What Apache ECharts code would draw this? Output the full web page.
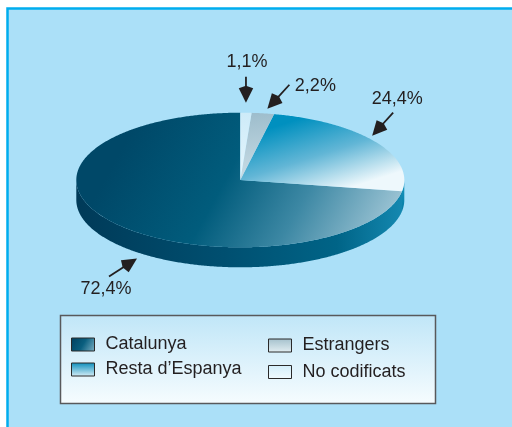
<!DOCTYPE html>
<html><head><meta charset="utf-8">
<script src="https://cdn.jsdelivr.net/npm/echarts@6/dist/echarts.min.js"></script>
<style>html,body{margin:0;padding:0;background:#fff}#c{width:512px;height:427px}</style>
</head><body><div id="c"></div>
<script>
// ---- data ----
const categories = ['Catalunya', 'Resta d\u2019Espanya', 'Estrangers', 'No codificats'];
const shares = [72.4, 24.4, 2.2, 1.1];
const clockwiseOrder = [3, 2, 1, 0]; // slices from 12 o'clock, clockwise

// ---- layout / style ----
const CX = 240.3, CY = 180, RX = 164, RY = 67.3, DEPTH = 20;
const FONT = '"Liberation Sans", Arial, Helvetica, sans-serif';
const INK = '#231f20';
const total = shares.reduce((a, b) => a + b, 0);

function grad(x, y, x2, y2, stops) {
  return new echarts.graphic.LinearGradient(x, y, x2, y2,
    stops.map(s => ({ offset: s[0], color: s[1] })));
}
const topFill = [
  () => grad(0.2, 0.0, 0.95, 1, [[0, '#004868'], [0.38, '#015c7c'], [0.66, '#3d88a4'], [1, '#a6cad9']]),
  () => grad(0.45, 0, 0.6, 1, [[0, '#0090bf'], [0.5, '#62b6d6'], [1, '#eef8fc']]),
  () => grad(0, 0, 0.3, 1, [[0, '#9cbccb'], [1, '#c9dde6']]),
  () => grad(0, 0, 0, 1, [[0, '#cdebf8'], [1, '#e6f6fd']])
];
const sideFill = [
  () => grad(0, 0, 1, 0, [[0, '#003a58'], [0.45, '#004f70'], [0.8, '#006487'], [1, '#1488b0']]),
  () => grad(0, 0, 0, 1, [[0, '#1a9ac2'], [1, '#087ca3']]),
  () => grad(0, 0, 0, 1, [[0, '#8aaab8'], [1, '#6e8e9c']]),
  () => grad(0, 0, 0, 1, [[0, '#b8dcea'], [1, '#9cc4d4']])
];
const legendFill = [
  () => grad(0, 0, 1, 1, [[0, '#003f5e'], [0.5, '#0a5f7f'], [1, '#7fb2c6']]),
  () => grad(0, 0, 0, 1, [[0, '#0a8dbb'], [1, '#d8eff8']]),
  () => grad(0, 0, 0, 1, [[0, '#a4c0cc'], [1, '#e2eef2']]),
  () => grad(0, 0, 0, 1, [[0, '#d2eefa'], [1, '#f0fafe']])
];
// annotation arrows: tip offset from rim anchor, tail vector from tip, label offset from tail
const ARROWS = [
  { tip: [22, 15], tail: [-28, 18], label: [-3, 13] },
  { tip: [-3.7, -6.4], tail: [21, -23], label: [4, -13.5] },
  { tip: [4.5, -4.6], tail: [22, -24], label: [26, 1] },
  { tip: [0, -10], tail: [0, -26], label: [1, -15] }
];

function ellPt(t, dy) { return [CX + RX * Math.sin(t), CY - RY * Math.cos(t) + (dy || 0)]; }
function arc(a0, a1, dy) {
  const n = Math.max(2, Math.ceil((a1 - a0) / (Math.PI / 360)));
  const pts = [];
  for (let i = 0; i <= n; i++) pts.push(ellPt(a0 + (a1 - a0) * i / n, dy));
  return pts;
}
function startFraction(k) {
  let s = 0;
  for (const j of clockwiseOrder) { if (j === k) break; s += shares[j]; }
  return s / total;
}
function fmt(v) { return v.toFixed(1).replace('.', ',') + '%'; }

function renderSlice(k, value) {
  const a0 = startFraction(k) * 2 * Math.PI;
  const a1 = a0 + value / total * 2 * Math.PI;
  const children = [];
  // side (front facing part only)
  const s0 = Math.max(a0, Math.PI / 2), s1 = Math.min(a1, 3 * Math.PI / 2);
  if (s1 > s0) {
    const upper = arc(s0, s1, 0), lower = arc(s0, s1, DEPTH).reverse();
    children.push({ type: 'polygon', shape: { points: upper.concat(lower) },
      style: { fill: sideFill[k](), stroke: null } });
  }
  // top face
  children.push({ type: 'polygon', shape: { points: [[CX, CY]].concat(arc(a0, a1, 0)) },
    style: { fill: topFill[k](), stroke: null } });
  // annotation arrow + label
  const mid = (a0 + a1) / 2;
  const front = mid > Math.PI / 2 && mid < 3 * Math.PI / 2;
  const anchor = ellPt(mid, front ? DEPTH : 0);
  const L = ARROWS[k];
  const tip = [anchor[0] + L.tip[0], anchor[1] + L.tip[1]];
  const tail = [tip[0] + L.tail[0], tip[1] + L.tail[1]];
  const len = Math.hypot(L.tail[0], L.tail[1]);
  const ux = L.tail[0] / len, uy = L.tail[1] / len;
  const HL = 14.5, HW = 7.2;
  const base = [tip[0] + ux * HL, tip[1] + uy * HL];
  children.push({ type: 'line', shape: { x1: tail[0], y1: tail[1], x2: base[0] - ux * 1, y2: base[1] - uy * 1 },
    style: { stroke: INK, lineWidth: 1.8 }, z2: 10 });
  children.push({ type: 'polygon', shape: { points: [tip,
      [base[0] - uy * HW, base[1] + ux * HW], [base[0] + ux * 2.5, base[1] + uy * 2.5],
      [base[0] + uy * HW, base[1] - ux * HW]] },
    style: { fill: INK }, z2: 10 });
  children.push({ type: 'text', z2: 10, style: { text: fmt(value),
      x: tail[0] + L.label[0], y: tail[1] + L.label[1], fill: INK,
      font: '18px ' + FONT, align: 'center', verticalAlign: 'middle' } });
  return { type: 'group', children };
}

function legendItem(k) {
  return { name: categories[k], icon: 'rect',
    itemStyle: { color: legendFill[k](), borderColor: '#2a2a2a', borderWidth: 1 } };
}
const legendText = { color: INK, fontSize: 18, fontFamily: FONT, padding: [0, 0, 0, 6] };

const chart = echarts.init(document.getElementById('c'), null, { renderer: 'canvas' });
chart.setOption({
  animation: false,
  backgroundColor: '#ffffff',
  graphic: [
    { type: 'rect', shape: { x: 7.5, y: 8.5, width: 600, height: 500 },
      style: { fill: '#abe0f8', stroke: '#00adee', lineWidth: 2.5 }, z: 0 },
    { type: 'rect', shape: { x: 60.5, y: 315.5, width: 375, height: 88 },
      style: { fill: grad(0, 0, 0, 1, [[0, '#c0e6f8'], [1, '#f6fcfe']]), stroke: '#58595b', lineWidth: 1.5 }, z: 1 }
  ],
  legend: [
    { data: [0, 1].map(legendItem), left: 71, top: 335.5, orient: 'vertical', padding: 0,
      itemWidth: 23, itemHeight: 13, itemGap: 7, textStyle: legendText, selectedMode: false },
    { data: [2, 3].map(legendItem), left: 268, top: 336.5, orient: 'vertical', padding: 0,
      itemWidth: 23, itemHeight: 13, itemGap: 8.5, textStyle: legendText, selectedMode: false }
  ],
  series: categories.map((name, k) => ({
    type: 'custom', name, coordinateSystem: 'none', silent: true,
    data: [shares[k]],
    renderItem: (params, api) => renderSlice(k, api.value(0))
  }))
});
</script></body></html>
